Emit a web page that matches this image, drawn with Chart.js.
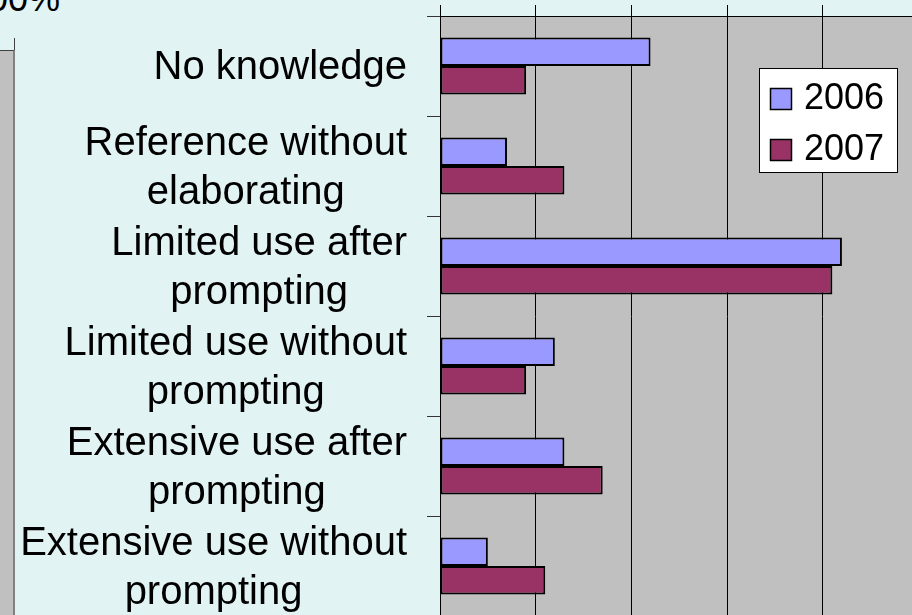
<!DOCTYPE html>
<html>
<head>
<meta charset="utf-8">
<script src="https://cdn.jsdelivr.net/npm/chart.js@4.4.1/dist/chart.umd.min.js"></script>
<style>
  html, body { margin: 0; padding: 0; }
  body {
    width: 912px; height: 615px; overflow: hidden; position: relative;
    background: #E2F3F3; font-family: 'Liberation Sans', Arial, sans-serif;
  }
  #chartUso { position: absolute; left: 0; top: 0; }
  /* borde del grafico vecino que aparece recortado a la izquierda */
  .vecino { position: absolute; left: 0; top: 50px; width: 13px; height: 570px; background: #C0C0C0; border-right: 2px solid #808080; border-top: 1px solid #404040; }
  .vecino-tick { position: absolute; left: 14px; top: 38px; width: 1px; height: 12px; background: #404040; }
  .vecino-pct { position: absolute; right: 852px; top: -19px; font-size: 36px; line-height: 36px; color: #000; white-space: nowrap; }
</style>
</head>
<body>
<div class="vecino-pct">100%</div>
<div class="vecino"></div>
<div class="vecino-tick"></div>
<canvas id="chartUso" width="930" height="620"></canvas>

<script>
const categorias = [
  ['No knowledge'],
  ['Reference without', 'elaborating'],
  ['Limited use after', 'prompting'],
  ['Limited use without', 'prompting'],
  ['Extensive use after', 'prompting'],
  ['Extensive use without', 'prompting']
]
const series = ['2006', '2007']
const valores2006 = [22, 7, 42, 12, 13, 5]
const valores2007 = [9, 13, 41, 9, 17, 11]
const ejeMax = 50
const ejePaso = 10

// fondo gris del area de trazado
const fondoPlot = {
  id: 'fondoPlot',
  beforeDraw(chart) {
    const { ctx, chartArea: a } = chart
    ctx.save()
    ctx.fillStyle = '#C0C0C0'
    ctx.fillRect(a.left, a.top, a.right - a.left, a.bottom - a.top)
    ctx.restore()
  }
}

// etiquetas de categoria: cada bloque alineado a la derecha, lineas centradas entre si
const etiquetas = {
  id: 'etiquetas',
  afterDraw(chart) {
    const ctx = chart.ctx
    const yScale = chart.scales.y
    const derecha = yScale.right - 33
    const altoLinea = 49
    ctx.save()
    ctx.font = '40px "Liberation Sans", Arial, sans-serif'
    ctx.fillStyle = '#000'
    ctx.textAlign = 'center'
    ctx.textBaseline = 'middle'
    chart.data.labels.forEach((lineas, i) => {
      const y = yScale.getPixelForTick(i) + 2
      const ancho = Math.max(...lineas.map(l => ctx.measureText(l).width))
      const cx = derecha - ancho / 2
      const y0 = y - (lineas.length - 1) * altoLinea / 2
      lineas.forEach((l, j) => ctx.fillText(l, cx, y0 + j * altoLinea))
    })
    ctx.restore()
  }
}

// leyenda con recuadro blanco
const leyenda = {
  id: 'leyenda',
  afterDraw(chart) {
    const ctx = chart.ctx
    ctx.save()
    ctx.fillStyle = '#fff'
    ctx.strokeStyle = '#000'
    ctx.lineWidth = 1
    ctx.fillRect(759.5, 68.5, 138, 104)
    ctx.strokeRect(759.5, 68.5, 138, 104)
    ctx.font = '36px "Liberation Sans", Arial, sans-serif'
    ctx.textBaseline = 'alphabetic'
    chart.data.datasets.forEach((ds, i) => {
      const y = 88 + i * 51
      ctx.fillStyle = ds.backgroundColor
      ctx.fillRect(770.5, y + 0.5, 21, 21)
      ctx.lineWidth = 1.5
      ctx.strokeStyle = '#000'
      ctx.strokeRect(770.5, y + 0.5, 21, 21)
      ctx.fillStyle = '#000'
      ctx.fillText(ds.label, 804, y + 21)
    })
    ctx.restore()
  }
}

const ctx = document.getElementById('chartUso').getContext('2d')
new Chart(ctx, {
  type: 'bar',
  data: {
    labels: categorias,
    datasets: [{
      label: series[0],
      data: valores2006,
      backgroundColor: '#9999FF',
      borderColor: '#000',
      borderWidth: 2,
      borderSkipped: false
    }, {
      label: series[1],
      data: valores2007,
      backgroundColor: '#993366',
      borderColor: '#000',
      borderWidth: 2,
      borderSkipped: false
    }]
  },
  options: {
    indexAxis: 'y',
    responsive: false,
    animation: false,
    datasets: {
      bar: { categoryPercentage: 2 / 3.5, barPercentage: 1 }
    },
    layout: { padding: { left: 427, top: 5, right: 11.5, bottom: 4 } },
    plugins: {
      legend: { display: false },
      tooltip: { enabled: false }
    },
    scales: {
      x: {
        position: 'top',
        min: 0,
        max: ejeMax,
        ticks: { display: false, stepSize: ejePaso },
        grid: { color: '#000', lineWidth: 1, tickLength: 11 },
        border: { color: '#000', width: 1 }
      },
      y: {
        ticks: { display: false },
        grid: { drawOnChartArea: false, tickLength: 13, color: '#333' },
        border: { color: '#000', width: 1 }
      }
    }
  },
  plugins: [fondoPlot, etiquetas, leyenda]
})
</script>
</body>
</html>
